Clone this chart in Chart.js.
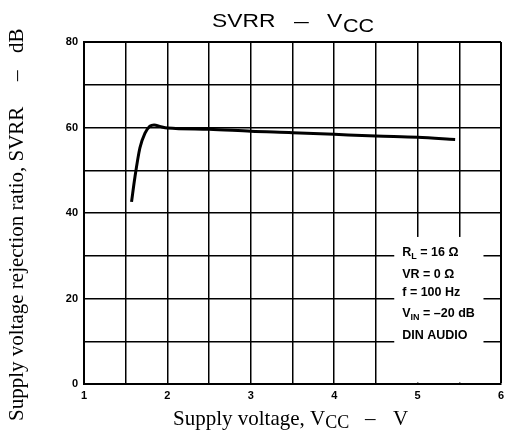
<!DOCTYPE html>
<html>
<head>
<meta charset="utf-8">
<script src="https://cdn.jsdelivr.net/npm/chart.js@4"></script>
<style>
html,body{margin:0;padding:0;background:#fff;}
#wrap{width:505px;height:435px;position:relative;}
</style>
</head>
<body>
<div id="wrap"><canvas id="c" width="505" height="435"></canvas></div>
<script>
// ---- data ----
const supplyVoltage = [1.57, 1.61, 1.67, 1.73, 1.79, 1.84, 1.92, 2.0, 2.5, 3.0, 3.5, 4.0, 4.5, 5.0, 5.45];
const svrr          = [42.6, 48.3, 55.2, 58.6, 60.3, 60.6, 60.2, 59.9, 59.6, 59.1, 58.8, 58.4, 58.0, 57.7, 57.2];
const xTickLabels = ['1', '2', '3', '4', '5', '6'];
const yTickLabels = ['0', '20', '40', '60', '80'];
const legendLines = [
  ['R', 'L', ' = 16 Ω'],
  ['VR = 0 Ω', '', ''],
  ['f = 100 Hz', '', ''],
  ['V', 'IN', ' = –20 dB'],
  ['DIN AUDIO', '', '']
];

const points = supplyVoltage.map((v, i) => ({x: v, y: svrr[i]}));

const bgPlugin = {
  id: 'bg',
  beforeDraw(chart) {
    const ctx = chart.ctx;
    ctx.save();
    ctx.fillStyle = '#fff';
    ctx.fillRect(0, 0, chart.width, chart.height);
    ctx.restore();
  }
};

const boxPlugin = {
  id: 'box',
  beforeDatasetsDraw(chart) {
    const ctx = chart.ctx;
    const xs = chart.scales.x, ys = chart.scales.y;
    const x0 = xs.getPixelForValue(4.72), x1 = xs.getPixelForValue(5.79);
    const y0 = ys.getPixelForValue(34.4), y1 = ys.getPixelForValue(0) - 1.5;
    ctx.save();
    ctx.fillStyle = '#fff';
    ctx.fillRect(x0, y0, x1 - x0, y1 - y0);
    // legend text
    ctx.fillStyle = '#000';
    ctx.textBaseline = 'alphabetic';
    const baselines = [256, 278, 296, 316.5, 339];
    legendLines.forEach((ln, i) => {
      let x = x0 + 8;
      const b = baselines[i];
      ctx.font = 'bold 12.5px "Liberation Sans"';
      ctx.fillText(ln[0], x, b);
      x += ctx.measureText(ln[0]).width;
      if (ln[1]) {
        ctx.font = 'bold 9px "Liberation Sans"';
        ctx.fillText(ln[1], x, b + 3);
        x += ctx.measureText(ln[1]).width;
      }
      if (ln[2]) {
        ctx.font = 'bold 12.5px "Liberation Sans"';
        ctx.fillText(ln[2], x, b);
      }
    });
    ctx.restore();
  }
};

const titlesPlugin = {
  id: 'titles',
  afterDraw(chart) {
    const ctx = chart.ctx;
    ctx.save();
    ctx.fillStyle = '#000';
    ctx.textBaseline = 'alphabetic';
    const drawScaled = (txt, x, y, font, sx) => {
      ctx.save();
      ctx.translate(x, y);
      ctx.scale(sx, 1);
      ctx.font = font;
      ctx.fillText(txt, 0, 0);
      ctx.restore();
    };
    // main title
    drawScaled('SVRR', 212, 27, '19px "Liberation Sans"', 1.2);
    drawScaled('–', 294, 27, '19px "Liberation Sans"', 1.4);
    drawScaled('V', 327, 27, '19px "Liberation Sans"', 1.2);
    drawScaled('CC', 343, 32, '18px "Liberation Sans"', 1.2);

    // x axis title
    ctx.font = '21px "Liberation Serif"';
    const t1 = 'Supply voltage, V';
    ctx.fillText(t1, 173, 425);
    let x = 173 + ctx.measureText(t1).width;
    ctx.font = '18px "Liberation Serif"';
    ctx.fillText('CC', x, 428);
    ctx.font = '21px "Liberation Serif"';
    ctx.fillText('–', 365, 425);
    ctx.fillText('V', 393, 425);

    // y axis title
    ctx.save();
    ctx.translate(23, 421);
    ctx.rotate(-Math.PI / 2);
    ctx.font = '21px "Liberation Serif"';
    ctx.fillText('Supply voltage rejection ratio, SVRR', 0, 0);
    ctx.fillText('–', 340, 0);
    ctx.fillText('dB', 368, 0);
    ctx.restore();
    ctx.restore();
  }
};

new Chart(document.getElementById('c'), {
  type: 'line',
  data: {
    datasets: [{
      data: points,
      borderColor: '#000',
      borderWidth: 3,
      pointRadius: 0,
      fill: false,
      cubicInterpolationMode: 'monotone'
    }]
  },
  options: {
    responsive: false,
    animation: false,
    devicePixelRatio: 1,
    layout: {padding: {left: 0, top: 42, right: 0, bottom: 0}},
    plugins: {legend: {display: false}, tooltip: {enabled: false}, title: {display: false}},
    scales: {
      x: {
        type: 'linear', min: 1, max: 6,
        afterFit(s) { s.height = 51; s.paddingRight = 4; },
        ticks: {
          stepSize: 0.5, padding: 5, color: '#000',
          font: {family: 'Liberation Sans', size: 11, weight: 'bold'},
          maxRotation: 0, autoSkip: false,
          callback: v => Number.isInteger(v) ? xTickLabels[v - 1] : ''
        },
        grid: {
          color: '#000', drawTicks: false,
          lineWidth: c => (c.tick && c.tick.value === 6) ? 2 : 1.5
        },
        border: {display: true, color: '#000', width: 2}
      },
      y: {
        min: 0, max: 80,
        afterFit(s) { s.width = 84; },
        ticks: {
          stepSize: 10, padding: 6, color: '#000',
          font: {family: 'Liberation Sans', size: 11, weight: 'bold'},
          autoSkip: false,
          callback: v => (v % 20 === 0) ? yTickLabels[v / 20] : ''
        },
        grid: {
          color: '#000', drawTicks: false,
          lineWidth: c => (c.tick && c.tick.value === 80) ? 2 : 1.5
        },
        border: {display: true, color: '#000', width: 2}
      }
    }
  },
  plugins: [bgPlugin, boxPlugin, titlesPlugin]
});
</script>
</body>
</html>
